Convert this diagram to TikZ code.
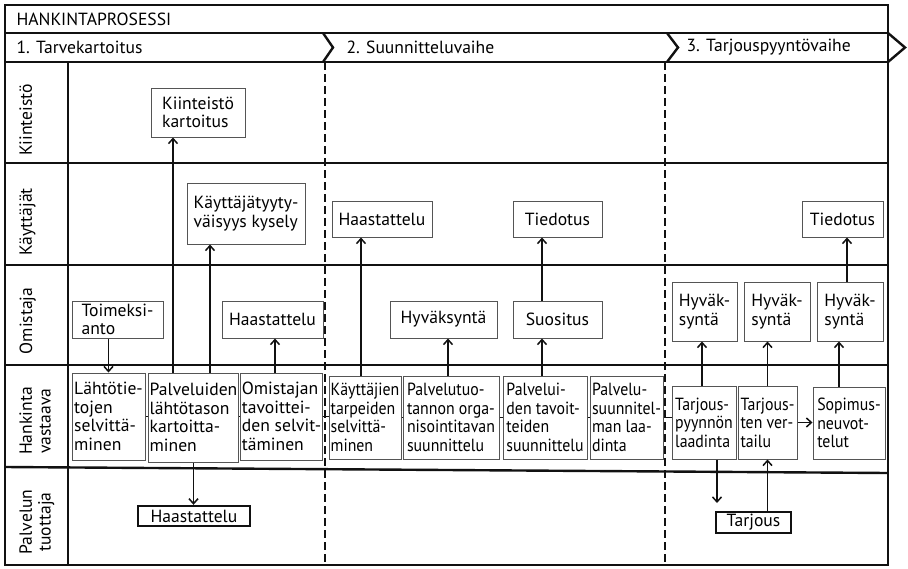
\documentclass[tikz,border=0pt]{standalone}
\usepackage{fontspec}
\setmainfont{PT Sans}
\newfontfamily\kapeafont[FakeStretch=0.9]{PT Sans}
\usetikzlibrary{positioning, arrows.meta, calc}
\definecolor{hkblack}{HTML}{111111}
\definecolor{hkgray}{HTML}{555555}

\begin{document}
\begin{tikzpicture}[x=1pt, y=-1pt,
  every node/.style={font=\fontsize{17.6}{18.6}\selectfont},
  frameline/.style={line width=2.4pt, hkblack},
  phaseline/.style={line width=2.2pt, hkblack, dash pattern=on 8pt off 4pt},
  task/.style={draw=hkgray, line width=1pt, align=left, inner xsep=1pt, inner ysep=1pt},
  narrowtask/.style={task, font=\kapeafont\fontsize{17.6}{18.6}\selectfont},
  bigtask/.style={draw=hkblack, line width=2.4pt, inner sep=0pt},
  lanelabel/.style={rotate=90, anchor=north, align=center},
  flow/.style={line width=1.5pt, hkblack, -{Straight Barb[length=5pt,width=9pt]}},
  link/.style={line width=1.5pt, hkblack}]
  \useasboundingbox (0,0) rectangle (908,568);

  % otsikko ja vaiheet
  \draw[frameline] (5,5) rectangle (888,33);
  \node[anchor=west] (otsikko) at (13,19) {HANKINTAPROSESSI};
  \draw[frameline] (323,33) -- (333,47.5) -- (323,62);
  \draw[frameline] (667,33) -- (678,47.5) -- (667,62);
  \draw[frameline] (888,33) -- (905,47.5) -- (888,62);
  \node[anchor=west] (vaihe1) at (13,47.5) {1. Tarvekartoitus};
  \node[anchor=west] (vaihe2) at (343,47.5) {2. Suunnitteluvaihe};
  \node[anchor=west] (vaihe3) at (683,47.5) {3. Tarjouspyyntövaihe};

  % kaistat
  \draw[frameline] (5,33) rectangle (888,565);
  \draw[frameline] (68,62) -- (68,565);
  \foreach \y in {62,163,265,365}
    \draw[frameline] (5,\y) -- (888,\y);
  \draw[frameline] (5,467) -- (888,473);
  \draw[phaseline] (325,62) -- (325,565);
  \draw[phaseline] (665,62) -- (665,565);

  \node[lanelabel] (lkiin) at (16,120) {Kiinteistö};
  \node[lanelabel] (lkayt) at (16,222) {Käyttäjät};
  \node[lanelabel] (lomis) at (16,321) {Omistaja};
  \node[lanelabel] (lhank) at (16,421) {Hankinta\\vastaava};
  \node[lanelabel] (ltuot) at (16,522) {Palvelun\\tuottaja};

  % 1. tarvekartoitus
  \node[task, minimum width=94, minimum height=49] (kart) at (198,112.5) {Kiinteistö\\kartoitus};
  \node[task, minimum width=118, minimum height=61] (kysely) at (246,213.5) {Käyttäjätyyty-\\väisyys kysely};
  \node[task, minimum width=91, minimum height=37] (toim) at (117.5,319.5) {Toimeksi-\\anto};
  \node[task, minimum width=101, minimum height=37] (haas1) at (272.5,319.5) {Haastattelu};
  \node[task, minimum width=73, minimum height=87] (lahto) at (108.5,416.5) {Lähtötie-\\tojen\\selvittä-\\minen};
  \node[task, minimum width=85, minimum height=89] (palv) at (193.5,417.5) {Palveluiden\\lähtötason\\kartoitta-\\minen};
  \node[task, minimum width=81, minimum height=87] (omis) at (281.5,416.5) {Omistajan\\tavoittei-\\den selvit-\\täminen};
  \node[bigtask, minimum width=112, minimum height=20] (haas3) at (194,516) {Haastattelu};

  % 2. suunnitteluvaihe
  \node[task, minimum width=100, minimum height=36] (haas2) at (382,219) {Haastattelu};
  \node[task, minimum width=89, minimum height=36] (tied1) at (557.5,219) {Tiedotus};
  \node[task, minimum width=107, minimum height=37] (hyv) at (443.5,319.5) {Hyväksyntä};
  \node[task, minimum width=89, minimum height=37] (suos) at (557.5,319.5) {Suositus};
  \node[narrowtask, minimum width=72, minimum height=83] (kayt) at (365,417.5) {Käyttäjien\\tarpeiden\\selvittä-\\minen};
  \node[narrowtask, minimum width=96, minimum height=83] (ptuo) at (451,417.5) {Palvelutuo-\\tannon orga-\\nisointitavan\\suunnittelu};
  \node[narrowtask, minimum width=84, minimum height=83] (ptav) at (545,417.5) {Palvelui-\\den tavoit-\\teiden\\suunnittelu};
  \node[narrowtask, minimum width=73, minimum height=83] (psuun) at (626.5,417.5) {Palvelu-\\suunnitel-\\man laa-\\dinta};

  % 3. tarjouspyyntövaihe
  \node[task, minimum width=81, minimum height=36] (tied2) at (842.5,219) {Tiedotus};
  \node[task, minimum width=65, minimum height=59] (hyv1) at (704.5,311.5) {Hyväk-\\syntä};
  \node[task, minimum width=66, minimum height=59] (hyv2) at (777,311.5) {Hyväk-\\syntä};
  \node[task, minimum width=66, minimum height=59] (hyv3) at (850,311.5) {Hyväk-\\syntä};
  \node[narrowtask, minimum width=64, minimum height=73] (tpyy) at (704,422.5) {Tarjous-\\pyynnön\\laadinta};
  \node[narrowtask, minimum width=59, minimum height=73] (tver) at (767.5,422.5) {Tarjous-\\ten ver-\\tailu};
  \node[narrowtask, minimum width=72, minimum height=72] (sopi) at (849,423) {Sopimus-\\neuvot-\\telut};
  \node[bigtask, minimum width=75, minimum height=21] (tarj) at (753.5,522.5) {Tarjous};
  \coordinate (tpyyloppu) at (717,503);

  % yhteydet
  \draw[flow] (toim.south -| lahto.north) -- (lahto.north);
  \draw[flow] (173,0 |- palv.north) -- (173,0 |- kart.south);
  \draw[flow] (210,0 |- palv.north) -- (210,0 |- kysely.south);
  \draw[flow] (275,0 |- omis.north) -- (275,0 |- haas1.south);
  \draw[flow] (palv.south) -- (palv.south |- haas3.north);
  \draw[flow] (361,0 |- kayt.north) -- (361,0 |- haas2.south);
  \draw[flow] (448,0 |- ptuo.north) -- (448,0 |- hyv.south);
  \draw[flow] (542,0 |- ptav.north) -- (542,0 |- suos.south);
  \draw[flow] (542,0 |- suos.north) -- (542,0 |- tied1.south);
  \draw[flow] (702,0 |- tpyy.north) -- (702,0 |- hyv1.south);
  \draw[flow] (tver.north) -- (tver.north |- hyv2.south);
  \draw[flow] (839,0 |- sopi.north) -- (839,0 |- hyv3.south);
  \draw[flow] (847,0 |- hyv3.north) -- (847,0 |- tied2.south);
  \draw[flow] (tver.east) -- (tver.east -| sopi.west);
  \draw[flow] (tpyyloppu |- tpyy.south) -- (tpyyloppu);
  \draw[flow] (tver.south |- tarj.north) -- (tver.south);
  \draw[link] (lahto.east) -- (lahto.east -| palv.west);
  \draw[link] (palv.east |- omis.east) -- (omis.west);
  \draw[link] (omis.east) -- (omis.east -| kayt.west);
  \draw[link] (kayt.east) -- (ptuo.west);
  \draw[link] (ptuo.east) -- (ptav.west);
  \draw[link] (ptav.east) -- (psuun.west);
  \draw[link] (psuun.east) -- (psuun.east -| tpyy.west);
\end{tikzpicture}
\end{document}
